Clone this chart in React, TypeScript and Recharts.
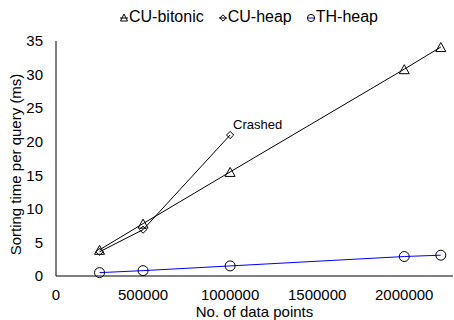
import React from 'react';
import { LineChart, Line, XAxis, YAxis, Legend, LabelList, Label } from 'recharts';

const cuBitonicN = [250000, 500000, 1000000, 2000000, 2210000];
const cuBitonicMs = [3.9, 7.8, 15.5, 30.8, 34.1];
const cuHeapN = [250000, 500000, 1000000];
const cuHeapMs = [3.6, 6.9, 21.0];
const thHeapN = [250000, 500000, 1000000, 2000000, 2210000];
const thHeapMs = [0.5, 0.8, 1.5, 2.9, 3.1];
const xTicks = [0, 500000, 1000000, 1500000, 2000000];
const yTicks = [0, 5, 10, 15, 20, 25, 30, 35];
const crashedText = 'Crashed';

const toRows = (n: number[], ms: number[]) => n.map((v, i) => ({ n: v, ms: ms[i] }));
const cuBitonic = toRows(cuBitonicN, cuBitonicMs);
const cuHeap = toRows(cuHeapN, cuHeapMs);
const thHeap = toRows(thHeapN, thHeapMs);

const FONT = '"Liberation Sans", Arial, sans-serif';

const Triangle = ({ cx, cy, w = 10, h = 9 }: any) => (
  <polygon
    points={`${cx},${cy - h / 2} ${cx + w / 2},${cy + h / 2} ${cx - w / 2},${cy + h / 2}`}
    fill="none"
    stroke="#000"
    strokeWidth={1}
  />
);
const Diamond = ({ cx, cy, r = 3.6 }: any) => (
  <polygon
    points={`${cx},${cy - r} ${cx + r},${cy} ${cx},${cy + r} ${cx - r},${cy}`}
    fill="none"
    stroke="#000"
    strokeWidth={1}
  />
);
const Circle = ({ cx, cy, r = 5 }: any) => (
  <circle cx={cx} cy={cy} r={r} fill="none" stroke="#000" strokeWidth={1} />
);

const triDot = (p: any) => <g key={`t${p.index}`}><Triangle cx={p.cx} cy={p.cy} /></g>;
const diaDot = (p: any) => <g key={`d${p.index}`}><Diamond cx={p.cx} cy={p.cy} /></g>;
const cirDot = (p: any) => <g key={`c${p.index}`}><Circle cx={p.cx} cy={p.cy} /></g>;

const legendItems = [
  { name: 'CU-bitonic', kind: 'tri', color: '#000' },
  { name: 'CU-heap', kind: 'dia', color: '#000' },
  { name: 'TH-heap', kind: 'cir', color: '#0000ff' },
];

const LegendContent = () => (
  <div style={{ display: 'flex', paddingLeft: 120, height: 24, alignItems: 'center', fontFamily: FONT, fontSize: 16, color: '#000' }}>
    {legendItems.map((it, i) => (
      <div key={it.name} style={{ display: 'flex', alignItems: 'center', marginRight: 15 }}>
        <svg width={8} height={12} style={{ display: 'block' }}>
          <line x1={0} x2={8} y1={7} y2={7} stroke={it.color} strokeWidth={1} />
          {it.kind === 'tri' && <Triangle cx={4} cy={6.5} w={7} h={7} />}
          {it.kind === 'dia' && <Diamond cx={4} cy={7} r={3.2} />}
          {it.kind === 'cir' && <Circle cx={4} cy={7} r={3.6} />}
        </svg>
        <span style={{ marginLeft: 1 }}>{it.name}</span>
      </div>
    ))}
  </div>
);

const crashedLabel = (props: any) => {
  const { x, y, index } = props;
  if (index !== cuHeap.length - 1) return <g key={`l${index}`} />;
  return (
    <text key={`l${index}`} x={x + 3} y={y - 6} fontFamily={FONT} fontSize={13} fill="#000">
      {crashedText}
    </text>
  );
};

const yTitle = (props: any) => {
  const vb = props.viewBox;
  const cx = vb.x + 21;
  const cy = vb.y + vb.height / 2 + 6;
  return (
    <text x={cx} y={cy} transform={`rotate(-90, ${cx}, ${cy})`} textAnchor="middle" fontFamily={FONT} fontSize={15} fill="#000">
      Sorting time per query (ms)
    </text>
  );
};

export default function App() {
  return (
    <div style={{ position: 'absolute', left: 0, top: 0, width: 454, height: 320, background: '#fff' }}>
      <LineChart width={454} height={320} margin={{ top: 17, right: 1, bottom: 0, left: 0 }}>
        <Legend
          verticalAlign="top"
          content={LegendContent}
          wrapperStyle={{ top: 5, left: 0, width: 454, height: 24 }}
        />
        <XAxis
          dataKey="n"
          type="number"
          domain={[0, 2280000]}
          ticks={xTicks}
          allowDuplicatedCategory={false}
          tickLine={false}
          tickSize={0}
          tickMargin={13}
          height={44}
          axisLine={{ stroke: '#000', strokeWidth: 1 }}
          tick={{ fill: '#000', fontSize: 15, fontFamily: FONT }}
        >
          <Label value="No. of data points" position="insideBottom" offset={3} fill="#000" fontSize={15} fontFamily={FONT} />
        </XAxis>
        <YAxis
          type="number"
          domain={[0, 35]}
          ticks={yTicks}
          width={56}
          tickLine={false}
          tickSize={0}
          tickMargin={13}
          axisLine={{ stroke: '#000', strokeWidth: 1 }}
          tick={{ fill: '#000', fontSize: 15, fontFamily: FONT }}
        >
          <Label content={yTitle} />
        </YAxis>
        <Line data={cuBitonic} dataKey="ms" name="CU-bitonic" type="linear" stroke="#000" strokeWidth={1} dot={triDot} activeDot={false} isAnimationActive={false} />
        <Line data={cuHeap} dataKey="ms" name="CU-heap" type="linear" stroke="#000" strokeWidth={1} dot={diaDot} activeDot={false} isAnimationActive={false}>
          <LabelList dataKey="ms" content={crashedLabel} />
        </Line>
        <Line data={thHeap} dataKey="ms" name="TH-heap" type="linear" stroke="#0000ff" strokeWidth={1} dot={cirDot} activeDot={false} isAnimationActive={false} />
      </LineChart>
    </div>
  );
}
